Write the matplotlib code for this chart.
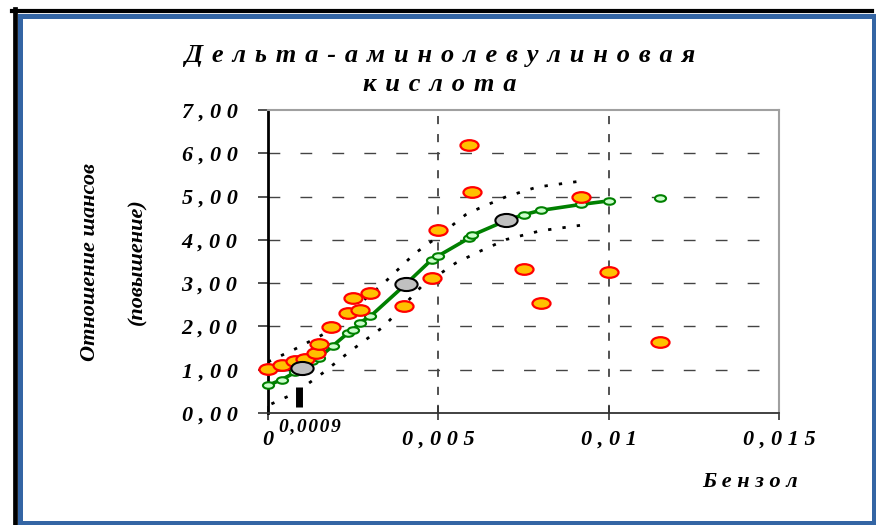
import numpy as np
import matplotlib
matplotlib.use("Agg")
import matplotlib.pyplot as plt
from matplotlib.path import Path
from matplotlib.lines import Line2D

# --- данные ---
red_x = [0, 0.0004, 0.0008, 0.0011, 0.0014, 0.0015, 0.00185, 0.00235, 0.0025, 0.0027,
         0.003, 0.004, 0.0048, 0.005, 0.0059, 0.006, 0.0075, 0.008, 0.0092, 0.01, 0.0115]
red_y = [1.02, 1.11, 1.19, 1.25, 1.38, 1.59, 1.98, 2.31, 2.65, 2.38,
         2.78, 2.48, 3.12, 4.23, 6.19, 5.11, 3.33, 2.55, 4.98, 3.26, 1.63]

green_x = [0, 0.0004, 0.0008, 0.0013, 0.0015, 0.0019, 0.00235, 0.0025, 0.0027, 0.003,
           0.0048, 0.005, 0.0059, 0.006, 0.0075, 0.008, 0.0092, 0.01, 0.0115]
green_y = [0.64, 0.77, 0.94, 1.21, 1.28, 1.55, 1.85, 1.92, 2.09, 2.23,
           3.54, 3.63, 4.04, 4.11, 4.58, 4.68, 4.82, 4.90, 4.96]

fit_x = [0, 0.0004, 0.0008, 0.001, 0.0013, 0.0015, 0.0019, 0.00235, 0.0025, 0.0027, 0.003,
         0.00405, 0.0048, 0.005, 0.0059, 0.006, 0.007, 0.0075, 0.008, 0.0092, 0.0098]
fit_y = [0.64, 0.77, 0.94, 1.05, 1.21, 1.28, 1.55, 1.85, 1.92, 2.09, 2.23,
         2.98, 3.54, 3.63, 4.04, 4.11, 4.45, 4.58, 4.68, 4.82, 4.88]

gray_x = [0.001, 0.00405, 0.007]
gray_y = [1.05, 2.98, 4.45]

upper_x = [0, 0.00045, 0.0008, 0.0017, 0.0025, 0.0034, 0.0043, 0.005, 0.0058, 0.0062, 0.007, 0.0079, 0.0093]
upper_y = [1.18, 1.35, 1.48, 1.85, 2.4, 3.0, 3.68, 4.08, 4.58, 4.73, 5.0, 5.22, 5.37]
lower_x = [0.0001, 0.0008, 0.0016, 0.0024, 0.0034, 0.0045, 0.0055, 0.0062, 0.007, 0.008, 0.0093]
lower_y = [0.21, 0.46, 0.92, 1.42, 2.0, 2.92, 3.46, 3.73, 4.01, 4.21, 4.35]

seg_x = [0, 0.001]
seg_y = [1.0, 1.02]
mark_x = 0.0009
mark_y = [0.14, 0.6]

x_ticks = [0, 0.005, 0.01, 0.015]
x_labels = ["0", "0,005", "0,01", "0,015"]
y_ticks = [0, 1, 2, 3, 4, 5, 6, 7]
y_labels = ["0,00", "1,00", "2,00", "3,00", "4,00", "5,00", "6,00", "7,00"]

title = "Дельта-аминолевулиновая\nкислота"
xlabel = "Бензол"
ylabel1 = "Отношение шансов"
ylabel2 = "(повышение)"
mark_label = "0,0009"

SERIF = ["Liberation Serif", "DejaVu Serif"]


def spaced(s, sep=" "):
    # растянутый текст, как в оригинале
    return "\n".join(sep.join(line) for line in s.split("\n"))


W, H = 876, 525
fig = plt.figure(figsize=(W / 100, H / 100), dpi=100)


def fx(px):
    return px / W


def fy(py):
    return 1 - py / H


# рамка
fig.add_artist(Line2D([fx(14.5), fx(14.5)], [fy(9), fy(525)], color="black", lw=3.4))
fig.add_artist(Line2D([fx(12), fx(872)], [fy(11), fy(11)], color="black", lw=3.0))
blue = "#3465a4"
fig.add_artist(Line2D([fx(19.5), fx(19.5), fx(873.5), fx(873.5), fx(19.5)],
                      [fy(15.5), fy(522.5), fy(522.5), fy(15.5), fy(15.5)],
                      color=blue, lw=3.6, solid_joinstyle="miter"))

ax = fig.add_axes([fx(268), fy(413), fx(779) - fx(268), fy(110) - fy(413)])
ax.set_xlim(0, 0.015)
ax.set_ylim(0, 7)

# эллиптический маркер (картинка растянута по горизонтали)
circ = Path.unit_circle()
ell = Path(circ.vertices * np.array([1.7, 1.0]), circ.codes)

# сетка
for y in y_ticks[1:-1]:
    ax.plot([0, 0.0145], [y, y], color="#444444", lw=1.0, dashes=(8.5, 14.5), zorder=1)
for x in x_ticks[1:-1]:
    ax.axvline(x, color="#444444", lw=1.3, dashes=(4.5, 5.5), zorder=1)

ax.plot(upper_x, upper_y, color="black", lw=2.0, dashes=(1.2, 4), zorder=2)
ax.plot(lower_x, lower_y, color="black", lw=2.0, dashes=(1.2, 4), zorder=2)
ax.plot(seg_x, seg_y, color="black", lw=3.0, zorder=2)

ax.plot(fit_x, fit_y, color="#008000", lw=2.6, zorder=3)
ax.plot(green_x, green_y, ls="none", marker=ell, ms=8, mfc="#ccffcc", mec="#008000", mew=1.5,
        zorder=4, clip_on=False)
ax.plot(red_x, red_y, ls="none", marker=ell, ms=13, mfc="#ffc000", mec="#ff0000", mew=1.6,
        zorder=5, clip_on=False)
ax.plot(gray_x, gray_y, ls="none", marker=ell, ms=16, mfc="#c0c0c0", mec="black", mew=1.5,
        zorder=6, clip_on=False)
ax.plot([mark_x, mark_x], mark_y, color="black", lw=5, solid_capstyle="butt", zorder=6)

# оси
for side in ["top", "right"]:
    ax.spines[side].set_color("#a0a0a0")
    ax.spines[side].set_linewidth(1.5)
ax.spines["left"].set_color("black")
ax.spines["left"].set_linewidth(2.0)
ax.spines["bottom"].set_color("#333333")
ax.spines["bottom"].set_linewidth(1.3)

tick_font = dict(family=SERIF, weight="bold", style="italic", size=16)
ax.set_yticks(y_ticks)
ax.set_yticklabels([spaced(s) for s in y_labels], fontdict=tick_font)
ax.set_xticks(x_ticks)
ax.set_xticklabels([spaced(s) for s in x_labels], fontdict=tick_font)
ax.tick_params(axis="y", direction="out", length=7, width=1.2, pad=15, color="#333333")
ax.tick_params(axis="x", direction="inout", length=10, width=1.2, pad=7, color="#333333")

ax.annotate(spaced(mark_label, "\u200a"), xy=(mark_x, 0), xytext=(8, -10), textcoords="offset points",
            ha="center", va="center", family=SERIF, weight="bold", style="italic", size=14)

fig.text(fx(440), fy(70), spaced(title, " \u200a"), ha="center", va="center", linespacing=1.3,
         family=SERIF, weight="bold", style="italic", size=19)
fig.text(fx(750), fy(482), spaced(xlabel), ha="center", va="center",
         family=SERIF, weight="bold", style="italic", size=16)
fig.text(fx(90), fy(262), ylabel1, ha="center", va="center", rotation=90,
         family=SERIF, weight="bold", style="italic", size=16)
fig.text(fx(137), fy(262), ylabel2, ha="center", va="center", rotation=90,
         family=SERIF, weight="bold", style="italic", size=16)

fig.savefig("out.png", dpi=100)
